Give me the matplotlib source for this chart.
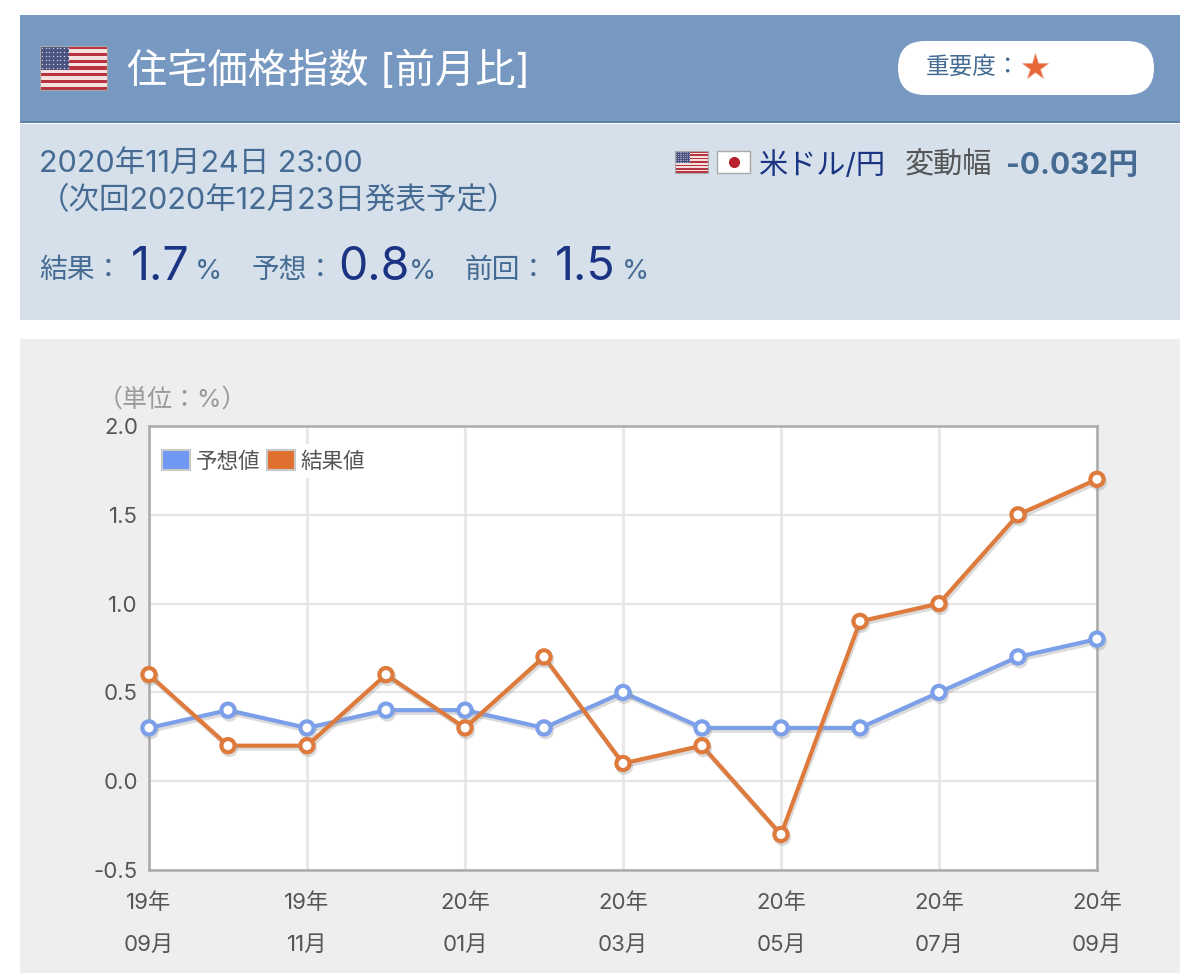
import matplotlib.pyplot as plt
import matplotlib.patheffects as pe
from matplotlib.patches import Rectangle, FancyBboxPatch, Patch

plt.rcParams['font.family'] = ['Inter', 'Noto Sans CJK JP', 'DejaVu Sans']

# chart data
months = ['19年\n09月', '', '19年\n11月', '', '20年\n01月', '', '20年\n03月', '', '20年\n05月', '', '20年\n07月', '', '20年\n09月']
forecast = [0.3, 0.4, 0.3, 0.4, 0.4, 0.3, 0.5, 0.3, 0.3, 0.3, 0.5, 0.7, 0.8]
result = [0.6, 0.2, 0.2, 0.6, 0.3, 0.7, 0.1, 0.2, -0.3, 0.9, 1.0, 1.5, 1.7]
yticks = [-0.5, 0.0, 0.5, 1.0, 1.5, 2.0]
ylabels = ['-0.5', '0.0', '0.5', '1.0', '1.5', '2.0']

W, H = 1200, 973
BLUE = '#7b9fe8'
ORANGE = '#dd7a3c'
NAVY = '#1a3383'
SLATE = '#456b93'
GREY = '#555555'

fig = plt.figure(figsize=(W / 100, H / 100), dpi=100, facecolor='white')

# page furniture drawn in pixel coordinates
bg = fig.add_axes([0, 0, 1, 1])
bg.set_xlim(0, W)
bg.set_ylim(H, 0)
bg.axis('off')


def box(x0, y0, x1, y1, color, z=1):
    bg.add_patch(Rectangle((x0, y0), x1 - x0, y1 - y0, facecolor=color, edgecolor='none', zorder=z))


def us_flag(x, y, w, h):
    n = 13
    for i in range(n):
        c = '#b5343f' if i % 2 == 0 else '#f6e0e0'
        box(x, y + i * h / n, x + w, y + (i + 1) * h / n, c, 3)
    box(x, y, x + w * 0.44, y + h * 7 / 13, '#4a5280', 4)
    for r in range(6):
        for k in range(8):
            bg.plot(x + (k + 0.5) * w * 0.44 / 8, y + (r + 0.5) * h * 7 / 13 / 6, '.',
                    color='#c8cce0', ms=max(w / 32, 1), mew=0, zorder=5)
    bg.add_patch(Rectangle((x, y), w, h, facecolor='none', edgecolor='#a8a8a8', lw=0.8, zorder=6))


box(20, 15, 1180, 122, '#7698c1')
box(20, 121, 1180, 123, '#5f80a8', 2)
box(20, 124, 1180, 320, '#d6e0eb')
box(20, 339, 1180, H, '#eeeeee')

us_flag(40, 46, 67, 44)
bg.text(127, 71, '住宅価格指数 [前月比]', fontsize=29, color='white', va='center', zorder=5)

bg.add_patch(FancyBboxPatch((898, 41), 256, 54, boxstyle='round,pad=0,rounding_size=27',
                            facecolor='white', edgecolor='none', zorder=3))
bg.text(926, 69, '重要度：', fontsize=17, color=SLATE, va='center', zorder=5)
bg.plot(1035, 67, marker='*', ms=20, color='#e8653a', mec='#f0a080', mew=0.5, zorder=5)

bg.text(39, 164, '2020年11月24日 23:00', fontsize=22, color=SLATE, va='center', zorder=5)
bg.text(39, 201, '（次回2020年12月23日発表予定）', fontsize=22, color=SLATE, va='center', zorder=5)

for x, lab, xnum, val, xpct in [(39, '結果：', 131, '1.7', 195),
                                (252, '予想：', 338, '0.8', 409),
                                (464, '前回：', 555, '1.5', 622)]:
    bg.text(x, 271, lab, fontsize=20, color=SLATE, va='center', zorder=5)
    bg.text(xnum, 268, val, fontsize=33.5, color=NAVY, va='center', zorder=5)
    bg.text(xpct, 272, '%', fontsize=20, color=SLATE, va='center', zorder=5)

us_flag(675, 151, 33, 22)
box(717, 151, 750, 173, 'white', 3)
bg.add_patch(Rectangle((717, 151), 33, 22, facecolor='none', edgecolor='#a8a8a8', lw=1, zorder=4))
bg.plot(733.5, 162, 'o', color='#b8202e', ms=8, mew=0, zorder=5)
bg.text(759, 166, '米ドル/円', fontsize=21, color=NAVY, va='center', zorder=5)
bg.text(905, 166, '変動幅', fontsize=21, color=GREY, va='center', zorder=5)
bg.text(1006, 166, '-0.032円', fontsize=21.5, color=SLATE, va='center', fontweight='bold', zorder=5)

bg.text(98, 400, '（単位：%）', fontsize=18, color='#999999', va='center', ha='left', zorder=5)

# line chart
ax = fig.add_axes([149 / W, 1 - 870 / H, (1097 - 149) / W, (870 - 426) / H], facecolor='white')
x = list(range(len(months)))
ax.set_xlim(0, 12)
ax.set_ylim(-0.5, 2.0)
ax.set_xticks(x[::2])
ax.set_xticklabels(months[::2], fontsize=16, color=GREY, linespacing=2.35)
ax.set_yticks(yticks)
ax.set_yticklabels(ylabels, fontsize=16, color=GREY)
ax.tick_params(axis='x', length=0, pad=16)
ax.tick_params(axis='y', length=0, pad=8)
ax.grid(axis='x', color='#e8e8e8', lw=2.2)
ax.grid(axis='y', color='#e4e4e4', lw=1.5)
ax.set_axisbelow(True)
for s in ax.spines.values():
    s.set_color('#ababab')
    s.set_linewidth(1.8)

shadow = [pe.SimpleLineShadow(offset=(1, -2), shadow_color='#999999', alpha=0.35), pe.Normal()]
ax.plot(x, forecast, color=BLUE, lw=3, marker='o', ms=9.5, mfc='white', mec=BLUE, mew=3,
        clip_on=False, zorder=4, path_effects=shadow)
ax.plot(x, result, color=ORANGE, lw=3, marker='o', ms=9.5, mfc='white', mec=ORANGE, mew=3,
        clip_on=False, zorder=5, path_effects=shadow)

handles = [Patch(facecolor='#6f98f5', edgecolor='#c8c8c8', lw=1.5),
           Patch(facecolor='#e0702f', edgecolor='#c8c8c8', lw=1.5)]
leg = ax.legend(handles, ['予想値', '結果値'], ncol=2, loc='upper left',
                bbox_to_anchor=(0.007, 0.96), fontsize=15.5, frameon=True, framealpha=1,
                facecolor='white', edgecolor='none', fancybox=False, borderpad=0.3,
                handlelength=1.3, handleheight=1.05, handletextpad=0.27, columnspacing=0.3,
                labelcolor=GREY, borderaxespad=0)
leg.set_zorder(3)

fig.savefig('out.png', dpi=100)
